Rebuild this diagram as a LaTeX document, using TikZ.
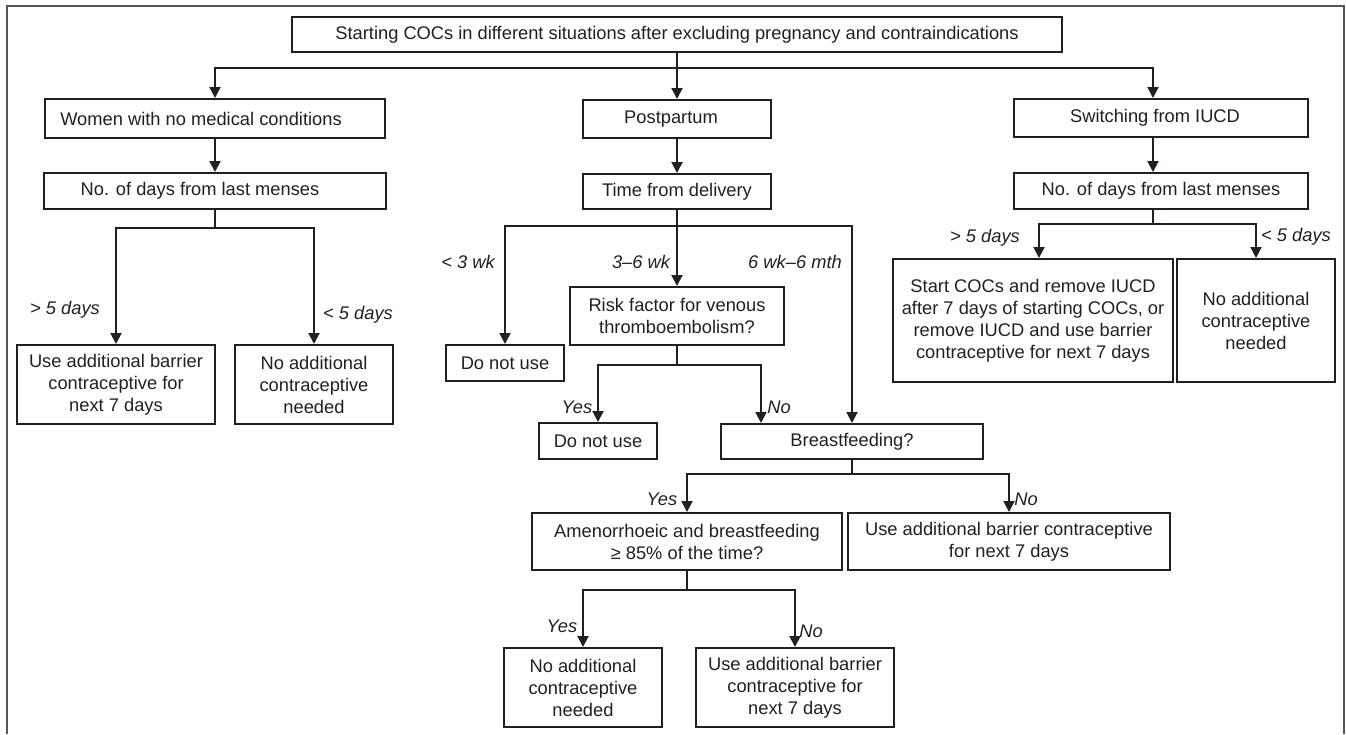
\documentclass[tikz,border=0pt]{standalone}
\usepackage{fontspec}
\setmainfont{Liberation Sans}
\usetikzlibrary{arrows.meta}
\definecolor{ink}{HTML}{231F20}
\definecolor{framec}{HTML}{555555}
\newcommand{\fs}{\fontsize{18.3}{22}\selectfont}
\begin{document}
\begin{tikzpicture}[x=1pt,y=-1pt,
  box/.style={draw=ink, line width=2pt, inner sep=0pt, align=center, font=\fs, text=ink},
  lbl/.style={inner sep=0pt, font=\fs\itshape, text=ink},
  conn/.style={draw=ink, line width=2pt},
  arr/.style={conn, -{Triangle[length=11pt,width=11pt]}}]
\useasboundingbox (0,0) rectangle (1346,734);
\draw[framec, line width=2pt] (7,734) -- (7,6) -- (1344,6) -- (1344,734);

% nodes
\node[box, minimum width=770, minimum height=35] (top) at (677,34.5) {Starting COCs in different situations after excluding pregnancy and contraindications};
\node[box, minimum width=340, minimum height=39] (wm) at (215,118.5) {Women with no medical conditions\hspace*{28pt}};
\node[box, minimum width=342, minimum height=36] (nd1) at (215,191) {No. of days from last menses\hspace*{30pt}};
\node[box, minimum width=198, minimum height=79] (l1) at (116,384.5) {Use additional barrier\\contraceptive for\\next 7 days};
\node[box, minimum width=158, minimum height=79] (l2) at (314,384.5) {No additional\\contraceptive\\needed};

\node[box, minimum width=188, minimum height=38] (pp) at (677,119) {Postpartum\hspace*{12pt}};
\node[box, minimum width=188, minimum height=35] (td) at (677,191.5) {Time from delivery};
\node[box, minimum width=118, minimum height=36] (dn1) at (505,363) {Do not use};
\node[box, minimum width=214, minimum height=58] (rk) at (677,316) {Risk factor for venous\\thromboembolism?};
\node[box, minimum width=118, minimum height=36] (dn2) at (598,441) {Do not use};
\node[box, minimum width=262, minimum height=35] (bf) at (852,441.5) {Breastfeeding?};
\node[box, minimum width=310, minimum height=57] (am) at (687,541.5) {Amenorrhoeic and breastfeeding\\≥ 85\% of the time?};
\node[box, minimum width=322, minimum height=57] (ua) at (1009,541.5) {Use additional barrier contraceptive\\for next 7 days};
\node[box, minimum width=158, minimum height=79] (nb) at (583,687.5) {No additional\\contraceptive\\needed};
\node[box, minimum width=198, minimum height=79] (ub) at (795,687.5) {Use additional barrier\\contraceptive for\\next 7 days};

\node[box, minimum width=294, minimum height=38] (sw) at (1161,118) {Switching from IUCD\hspace*{12pt}};
\node[box, minimum width=294, minimum height=36] (nd2) at (1161,191) {No. of days from last menses};
\node[box, minimum width=280, minimum height=123] (sc) at (1033,320.5) {Start COCs and remove IUCD\\after 7 days of starting COCs, or\\remove IUCD and use barrier\\contraceptive for next 7 days};
\node[box, minimum width=158, minimum height=123] (nr) at (1256,320.5) {No additional\\contraceptive\\needed};

% junction coordinates
\coordinate (a1) at (677,68);
\coordinate (a2) at (1153,68);
\coordinate (b1) at (215,228);
\coordinate (c0) at (677,226);
\coordinate (d0) at (677,365);
\coordinate (d1) at (761,365);
\coordinate (e0) at (852,474);
\coordinate (f0) at (687,590);
\coordinate (g0) at (1153,224);
\coordinate (g1) at (1039,224);

% connectors
\draw[conn] (top.south) -- (a1);
\draw[arr] (a1) -| (wm.north);
\draw[arr] (a1) -| (a2 |- sw.north);
\draw[arr] (a1) -- (pp.north);

\draw[arr] (wm.south) -- (nd1.north);
\draw[conn] (nd1.south) -- (b1);
\draw[arr] (b1) -| (l1.north);
\draw[arr] (b1) -| (l2.north);

\draw[arr] (pp.south) -- (td.north);
\draw[conn] (td.south) -- (c0);
\draw[arr] (c0) -| (dn1.north);
\draw[arr] (c0) -- (rk.north);
\draw[arr] (c0) -| (bf.north);

\draw[conn] (rk.south) -- (d0);
\draw[arr] (d0) -| (dn2.north);
\draw[arr] (d0) -| (d1 |- bf.north);

\draw[conn] (bf.south) -- (e0);
\draw[arr] (e0) -| (am.north);
\draw[arr] (e0) -| (ua.north);

\draw[conn] (am.south) -- (f0);
\draw[arr] (f0) -| (nb.north);
\draw[arr] (f0) -| (ub.north);

\draw[arr] (a2 |- sw.south) -- (a2 |- nd2.north);
\draw[conn] (a2 |- nd2.south) -- (g0);
\draw[arr] (g0) -| (g1 |- sc.north);
\draw[arr] (g0) -| (nr.north);

% labels
\node[lbl] (t1) at (65,310) {> 5 days};
\node[lbl] (t2) at (358,315) {< 5 days};
\node[lbl] (t3) at (468,262) {< 3 wk};
\node[lbl] (t4) at (641,262) {3–6 wk};
\node[lbl] (t5) at (795,262) {6 wk–6 mth};
\node[lbl] (t6) at (577,407) {Yes};
\node[lbl] (t7) at (779,407) {No};
\node[lbl] (t8) at (985,238) {> 5 days};
\node[lbl] (t9) at (1296,237) {< 5 days};
\node[lbl] (t10) at (662,499) {Yes};
\node[lbl] (t11) at (1026,499) {No};
\node[lbl] (t12) at (562,626) {Yes};
\node[lbl] (t13) at (811,631) {No};
\end{tikzpicture}
\end{document}
